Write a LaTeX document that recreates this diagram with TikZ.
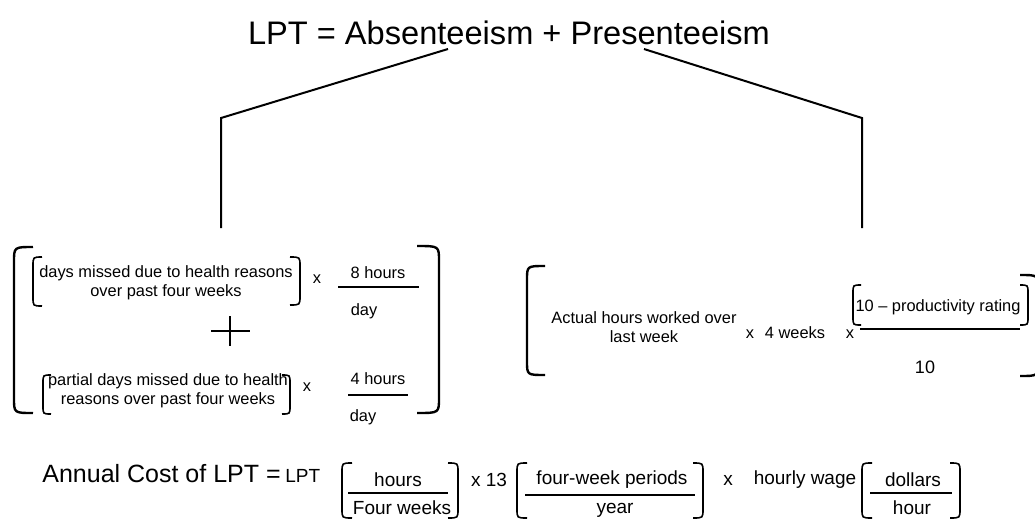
\documentclass[tikz,border=0pt]{standalone}
\usepackage{fontspec}
\setmainfont{Liberation Sans}
\usetikzlibrary{calc,positioning}

% bracket with curled ends: [style]{x}{top}{bottom}{curl dx}{curl dy}
\newcommand{\curlbrk}[6][]{%
  \draw[#1] ({#2+#5},#3) .. controls (#2,#3) .. (#2,{#3+#6})
    -- (#2,{#4-#6}) .. controls (#2,#4) .. ({#2+#5},#4);}

\begin{document}
\begin{tikzpicture}[x=0.5pt,y=-0.5pt]
	\tikzstyle{title} = [inner sep=0pt, font=\fontsize{16.3}{19}\selectfont];
	\tikzstyle{large} = [inner sep=0pt, font=\fontsize{12.5}{15}\selectfont];
	\tikzstyle{small} = [inner sep=0pt, align=center, font=\fontsize{8.2}{9.7}\selectfont];
	\tikzstyle{mid} = [inner sep=0pt, font=\fontsize{9}{11}\selectfont];
	\tikzstyle{bsmall} = [inner sep=0pt, font=\fontsize{9.5}{11}\selectfont];
	\tikzstyle{branch} = [draw, line width=1pt];
	\tikzstyle{big} = [line width=1.2pt];
	\tikzstyle{inner} = [line width=0.8pt];
	\tikzstyle{frac} = [draw, line width=1pt];

	\useasboundingbox (0,0) rectangle (1035,521);

	% title
		\node[title] (lpt) at (509,33) {LPT = Absenteeism + Presenteeism};

	% branch lines
		\coordinate (abs start) at (448,49);
		\coordinate (abs knee) at (221,118);
		\coordinate (abs end) at (221,228);
		\coordinate (pres start) at (644,49);
		\coordinate (pres knee) at (862,118);
		\coordinate (pres end) at (862,228);
		\path[branch] (abs start) -- (abs knee) -- (abs end);
		\path[branch] (pres start) -- (pres knee) -- (pres end);

	% absenteeism
		\node[small] (days) at (166,283) {days missed due to health reasons\\over past four weeks};
		\node[small] (x1) at (317,279) {x};
		\node[small] (eight) at (378,273) {8 hours};
		\node[small] (day1) at (364,311) {day};
		\path[frac] (338,287) -- (419,287);

		\draw[inner] (211,331) -- (250,331) (230,316) -- (230,346);

		\node[small] (partial) at (168,391) {partial days missed due to health\\reasons over past four weeks};
		\node[small] (x2) at (307,387) {x};
		\node[small] (four) at (378,379) {4 hours};
		\node[small] (day2) at (363,417) {day};
		\path[frac] (348,395) -- (408,395);

		\curlbrk[big]{14}{247}{413}{19}{15}
		\curlbrk[big]{439}{246}{413}{-22}{15}
		\curlbrk[inner]{33}{257}{306}{9}{9}
		\curlbrk[inner]{300}{257}{305}{-10}{9}
		\curlbrk[inner]{43}{375}{414}{8}{8}
		\curlbrk[inner]{290}{375}{414}{-8}{8}

	% presenteeism
		\node[small] (actual) at (644,327) {Actual hours worked over\\last week};
		\node[small] (x3) at (750,334) {x};
		\node[small] (weeks) at (795,333) {4 weeks};
		\node[small] (x4) at (850,334) {x};
		\node[small] (rating) at (938,307) {10 -- productivity rating};
		\node[mid] (ten) at (925,367) {10};
		\path[frac] (860,329) -- (1020,329);

		\curlbrk[big]{527}{266}{375}{18}{14}
		\curlbrk[big]{1038}{275}{376}{-18}{14}
		\curlbrk[inner]{853}{285}{325}{8}{8}
		\curlbrk[inner]{1028}{285}{325}{-8}{8}

	% annual cost
		\node[large, anchor=base west] (annual) at (42,482) {Annual Cost of LPT =};
		\node[bsmall, anchor=base west] (lpt small) at (285,482) {LPT};

		\node[bsmall] (hours) at (398,480) {hours};
		\node[bsmall] (four weeks) at (402,508) {Four weeks};
		\path[frac] (348,493) -- (448,493);
		\curlbrk[inner]{342}{463}{518}{10}{9}
		\curlbrk[inner]{458}{463}{518}{-10}{9}

		\node[bsmall] (x13) at (489,480) {x 13};

		\node[bsmall] (periods) at (612,480) {four-week periods};
		\node[bsmall] (year) at (615,510) {year};
		\path[frac] (525,495) -- (695,495);
		\curlbrk[inner]{517}{463}{518}{10}{9}
		\curlbrk[inner]{703}{463}{518}{-10}{9}

		\node[bsmall] (x5) at (728,480) {x};
		\node[bsmall] (wage) at (805,480) {hourly wage};

		\node[bsmall] (dollars) at (913,480) {dollars};
		\node[bsmall] (hour) at (912,508) {hour};
		\path[frac] (870,493) -- (952,493);
		\curlbrk[inner]{862}{463}{518}{10}{9}
		\curlbrk[inner]{960}{463}{518}{-10}{9}
\end{tikzpicture}
\end{document}
